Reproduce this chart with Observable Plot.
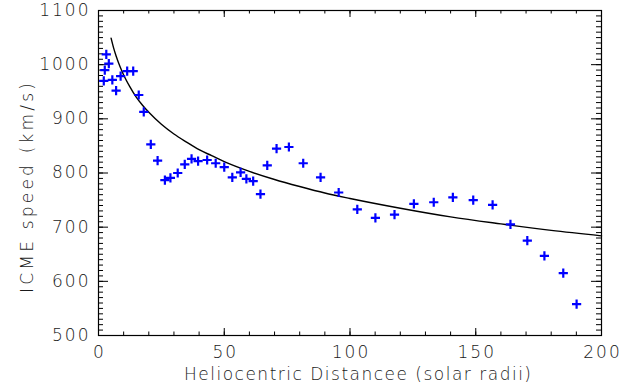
<!DOCTYPE html>
<html>
<head>
<meta charset="utf-8">
<script src="https://cdn.jsdelivr.net/npm/d3@7"></script>
<script src="https://cdn.jsdelivr.net/npm/@observablehq/plot@0.6"></script>
<style>
  html, body { margin: 0; padding: 0; background: white; }
</style>
</head>
<body>
<div id="chart"></div>
<script>
// Observed CME speeds vs heliocentric distance
const distance = [2.1, 2.5, 3.1, 4.1, 5.5, 7.0, 8.8, 11.4, 13.8, 16.0, 18.0, 20.8, 23.5, 26.4, 28.6, 31.5, 34.3, 37.0, 39.6, 43.2, 46.6, 50.0, 53.2, 56.5, 58.8, 61.5, 64.4, 67.1, 70.8, 75.7, 81.4, 88.3, 95.5, 102.9, 110.1, 117.7, 125.4, 133.3, 140.9, 149.0, 156.7, 163.8, 170.5, 177.3, 184.8, 190.1];
const speed = [970, 990, 1019, 1002, 972, 952, 979, 988, 988, 944, 913, 853, 823, 787, 791, 800, 816, 826, 822, 824, 818, 811, 792, 801, 789, 785, 761, 814, 845, 848, 818, 792, 764, 733, 717, 723, 743, 746, 755, 750, 741, 705, 675, 647, 615, 558];

// Fitted curve
const fitDistance = [5, 6, 7, 8.5, 10, 12.5, 15, 17.5, 20, 25, 30, 35, 40, 45, 50, 60, 70, 80, 90, 100, 120, 140, 160, 180, 200];
const fitSpeed = [1049, 1031, 1016, 997, 981, 959, 940, 925, 912, 890, 872, 857, 843, 832, 821, 803, 788, 775, 763, 753, 735, 719, 706, 694, 684];

// Tick values
const xMajor = [0, 50, 100, 150, 200];
const xMinor = d3.range(0, 201, 10);
const yMajor = [500, 600, 700, 800, 900, 1000, 1100];
const yMinor = d3.range(500, 1101, 10);

const xLabel = "Heliocentric Distancee (solar radii)";
const yLabel = "ICME speed (km/s)";

const points = distance.map((d, i) => ({d, v: speed[i]}));
const fit = fitDistance.map((d, i) => ({d, v: fitSpeed[i]}));

const plusSymbol = {
  draw(context, size) {
    const r = Math.sqrt(size / Math.PI);
    context.moveTo(-r, 0); context.lineTo(r, 0);
    context.moveTo(0, -r); context.lineTo(0, r);
  }
};

const W = 634, H = 389, mL = 98, mR = 33, mT = 10, mB = 54;
const iw = W - mL - mR, ih = H - mT - mB;
const txt = "#1a1a1a";

const chart = Plot.plot({
  width: W, height: H,
  marginLeft: mL, marginRight: mR, marginTop: mT, marginBottom: mB,
  x: {domain: [0, 200], axis: null},
  y: {domain: [500, 1100], axis: null},
  style: {fontFamily: "DejaVu Sans", fontSize: "17px", background: "white", color: txt},
  marks: [
    // ticks (inward, all four sides)
    Plot.tickX(xMinor, {x: d => d, insetTop: ih - 3.5, stroke: "black"}),
    Plot.tickX(xMinor, {x: d => d, insetBottom: ih - 3.5, stroke: "black"}),
    Plot.tickX(xMajor, {x: d => d, insetTop: ih - 7, stroke: "black"}),
    Plot.tickX(xMajor, {x: d => d, insetBottom: ih - 7, stroke: "black"}),
    Plot.tickY(yMinor, {y: d => d, insetRight: iw - 5, stroke: "black"}),
    Plot.tickY(yMinor, {y: d => d, insetLeft: iw - 5, stroke: "black"}),
    Plot.tickY(yMajor, {y: d => d, insetRight: iw - 10, stroke: "black"}),
    Plot.tickY(yMajor, {y: d => d, insetLeft: iw - 10, stroke: "black"}),
    Plot.frame({stroke: "black", strokeWidth: 1.2}),
    // tick labels
    Plot.text(xMajor, {x: d => d, frameAnchor: "bottom", dy: 17, dx: 1, lineAnchor: "middle", text: d => String(d), fill: txt, fontSize: 17, fontWeight: 200}),
    Plot.text(yMajor, {y: d => d, frameAnchor: "left", dx: -8, textAnchor: "end", lineAnchor: "middle", text: d => String(d), fill: txt, fontSize: 17, fontWeight: 200}),
    // axis titles (start-anchored)
    Plot.text([xLabel], {frameAnchor: "bottom", textAnchor: "start", dx: -166, dy: 39, lineAnchor: "middle", text: d => d, fill: txt, fontSize: 17, fontWeight: 200}),
    Plot.text([yLabel], {frameAnchor: "left", textAnchor: "start", dx: -71, dy: 120, rotate: -90, lineAnchor: "middle", text: d => d, fill: txt, fontSize: 17, fontWeight: 200}),
    // fit curve
    Plot.line(fit, {x: "d", y: "v", curve: "monotone-x", stroke: "black", strokeWidth: 1.4}),
    // data crosses
    Plot.dot(points, {x: "d", y: "v", symbol: plusSymbol, r: 4.6, stroke: "#0000ff", strokeWidth: 2.2, fill: "none"})
  ]
});
// spacing to imitate the wide stroke font of the original
d3.select(chart).selectAll("text").each(function() {
  const t = this.textContent;
  if (t === xLabel) {
    this.setAttribute("textLength", 347);
    this.setAttribute("lengthAdjust", "spacing");
  } else if (t === yLabel) {
    this.setAttribute("textLength", 210);
    this.setAttribute("lengthAdjust", "spacing");
  } else {
    this.style.letterSpacing = "2px";
  }
});
document.getElementById("chart").appendChild(chart);
</script>
</body>
</html>
